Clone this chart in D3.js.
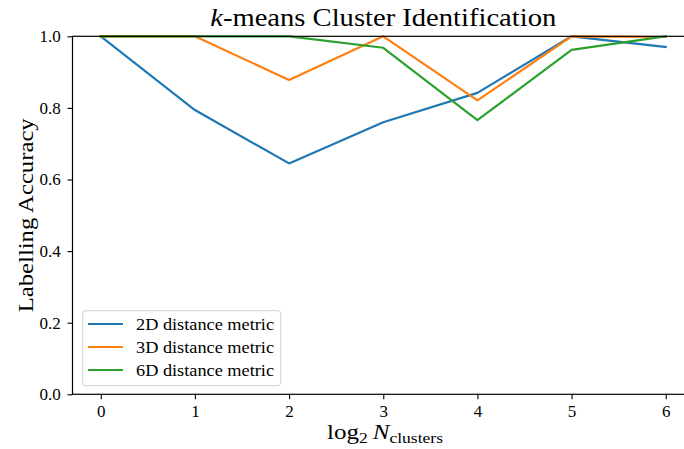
<!DOCTYPE html>
<html>
<head>
<meta charset="utf-8">
<script src="https://cdn.jsdelivr.net/npm/d3@7/dist/d3.min.js"></script>
<style>
  html, body { margin: 0; padding: 0; background: #fff; overflow: hidden; }
  svg { display: block; }
  text { font-family: "Liberation Serif", "DejaVu Serif", serif; fill: #000; }
</style>
</head>
<body>
<svg id="chart" width="684" height="449"></svg>
<script>
// log2 of the number of clusters
const xValues = [0, 1, 2, 3, 4, 5, 6];

// Labelling accuracy per distance metric
const acc2D = [1.0, 0.794, 0.645, 0.760, 0.842, 1.0, 0.970];
const acc3D = [1.0, 1.0, 0.878, 1.0, 0.821, 1.0, 0.998];
const acc6D = [1.0, 1.0, 1.0, 0.968, 0.766, 0.962, 1.0];

const seriesNames = ["2D distance metric", "3D distance metric", "6D distance metric"];
const seriesColors = ["#1f77b4", "#ff7f0e", "#2ca02c"];
const seriesValues = [acc2D, acc3D, acc6D];

const xTicks = [0, 1, 2, 3, 4, 5, 6];
const yTicks = [0.0, 0.2, 0.4, 0.6, 0.8, 1.0];

const SERIF = "'Liberation Serif', 'DejaVu Serif', serif";
const svg = d3.select("#chart");

const plot = { left: 72.5, right: 694, top: 36.3, bottom: 394.3 };

const x = d3.scaleLinear().domain([-0.3, 6.3]).range([plot.left, plot.right]);
const y = d3.scaleLinear().domain([0, 1]).range([plot.bottom, plot.top]);

// data lines
const line = d3.line().x((d, i) => x(xValues[i])).y(d => y(d));
const lines = svg.append("g");
seriesValues.forEach((vals, k) => {
  lines.append("path")
    .datum(vals)
    .attr("d", line)
    .attr("fill", "none")
    .attr("stroke", seriesColors[k])
    .attr("stroke-width", 2.2)
    .attr("stroke-linejoin", "round")
    .attr("stroke-linecap", "square");
});

// axes
const xAxis = d3.axisBottom(x).tickValues(xTicks).tickFormat(d3.format("d"))
  .tickSizeInner(5).tickSizeOuter(0).tickPadding(5);
const yAxis = d3.axisLeft(y).tickValues(yTicks).tickFormat(d3.format(".1f"))
  .tickSizeInner(5).tickSizeOuter(0).tickPadding(5);

const gx = svg.append("g").attr("transform", `translate(0,${plot.bottom})`).call(xAxis);
const gy = svg.append("g").attr("transform", `translate(${plot.left},0)`).call(yAxis);
[gx, gy].forEach(g => {
  g.attr("font-family", SERIF).attr("font-size", 17);
  g.select(".domain").remove();
  g.selectAll(".tick line").attr("stroke", "#000").attr("stroke-width", 1.1);
  g.selectAll(".tick text").attr("font-family", SERIF).attr("font-size", 17).attr("fill", "#000");
});
gx.selectAll(".tick text").attr("dy", "0.72em");
gy.selectAll(".tick text").attr("dx", "-0.1em");

// frame
svg.append("rect")
  .attr("x", plot.left).attr("y", plot.top)
  .attr("width", plot.right - plot.left).attr("height", plot.bottom - plot.top)
  .attr("fill", "none").attr("stroke", "#000").attr("stroke-width", 1.2);

// title
const title = svg.append("text")
  .attr("x", (plot.left + plot.right) / 2).attr("y", 26)
  .attr("text-anchor", "middle")
  .attr("textLength", 346).attr("lengthAdjust", "spacingAndGlyphs")
  .style("font-size", "25px");
title.append("tspan").style("font-style", "italic").text("k");
title.append("tspan").text("-means Cluster Identification");

// y label
svg.append("text")
  .attr("transform", `translate(33,${(plot.top + plot.bottom) / 2}) rotate(-90)`)
  .attr("text-anchor", "middle")
  .attr("textLength", 194).attr("lengthAdjust", "spacingAndGlyphs")
  .style("font-size", "22px")
  .text("Labelling Accuracy");

// x label: log2 N_clusters
const xl = svg.append("text")
  .attr("x", 385).attr("y", 439)
  .attr("text-anchor", "middle")
  .attr("textLength", 116).attr("lengthAdjust", "spacingAndGlyphs")
  .style("font-size", "20px");
xl.append("tspan").text("log");
xl.append("tspan").attr("dy", 4).style("font-size", "14px").text("2");
xl.append("tspan").attr("dy", -4).text("\u2009");
xl.append("tspan").style("font-style", "italic").text("N");
xl.append("tspan").attr("dy", 4).style("font-size", "14px").text("clusters");

// legend
const legend = svg.append("g");
legend.append("rect")
  .attr("x", 82.7).attr("y", 310.7).attr("width", 198).attr("height", 75)
  .attr("rx", 3).attr("fill", "#fff").attr("fill-opacity", 0.8)
  .attr("stroke", "#d0d0d0").attr("stroke-width", 1);
seriesNames.forEach((name, k) => {
  const cy = 324 + k * 23;
  legend.append("line")
    .attr("x1", 88).attr("x2", 123).attr("y1", cy).attr("y2", cy)
    .attr("stroke", seriesColors[k]).attr("stroke-width", 2.2);
  legend.append("text")
    .attr("x", 136).attr("y", cy + 5.5)
    .attr("textLength", 138).attr("lengthAdjust", "spacingAndGlyphs")
    .style("font-size", "17px")
    .text(name);
});
</script>
</body>
</html>
